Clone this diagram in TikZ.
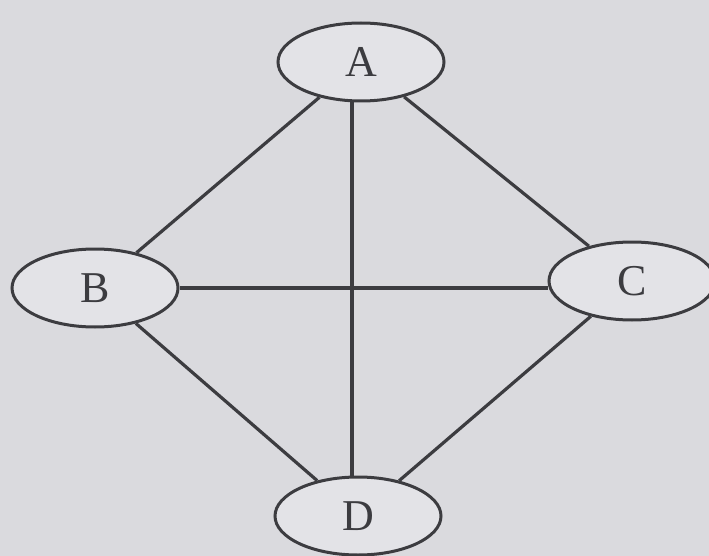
\documentclass[tikz,border=0pt]{standalone}
\usepackage{fontspec}
\setmainfont{Liberation Serif}
\usetikzlibrary{shapes.geometric}
\definecolor{scangray}{HTML}{DADADE}
\definecolor{ovalfill}{HTML}{E3E3E7}
\definecolor{inkgray}{HTML}{3C3C40}

\tikzset{
    vertex/.style={ellipse, draw=inkgray, fill=ovalfill, line width=3pt,
        minimum width=166pt, minimum height=78pt, inner sep=0pt,
        font=\fontsize{44}{48}\selectfont, text=inkgray},
    edge/.style={inkgray, line width=3.2pt}
}

\begin{document}
\begin{tikzpicture}[x=1pt,y=-1pt]
    \fill[scangray] (0,0) rectangle (709,556);
    \useasboundingbox (0,0) rectangle (709,556);

    \coordinate (a) at (361,62);
    \coordinate (b) at (95,288);
    \coordinate (c) at (632,281);
    \coordinate (d) at (358,516);

    \node[vertex] (A) at (a) {A};
    \node[vertex] (B) at (b) {B};
    \node[vertex] (C) at (c) {C};
    \node[vertex] (D) at (d) {D};

    \draw[edge] (A) -- (B);
    \draw[edge] (A) -- (C);
    \draw[edge] (B) -- (D);
    \draw[edge] (C) -- (D);
    \draw[edge] ([xshift=-9pt]A.south) -- ([xshift=-6pt]D.north);
    \draw[edge] (B.east) -- (B.east -| C.west);
\end{tikzpicture}
\end{document}
